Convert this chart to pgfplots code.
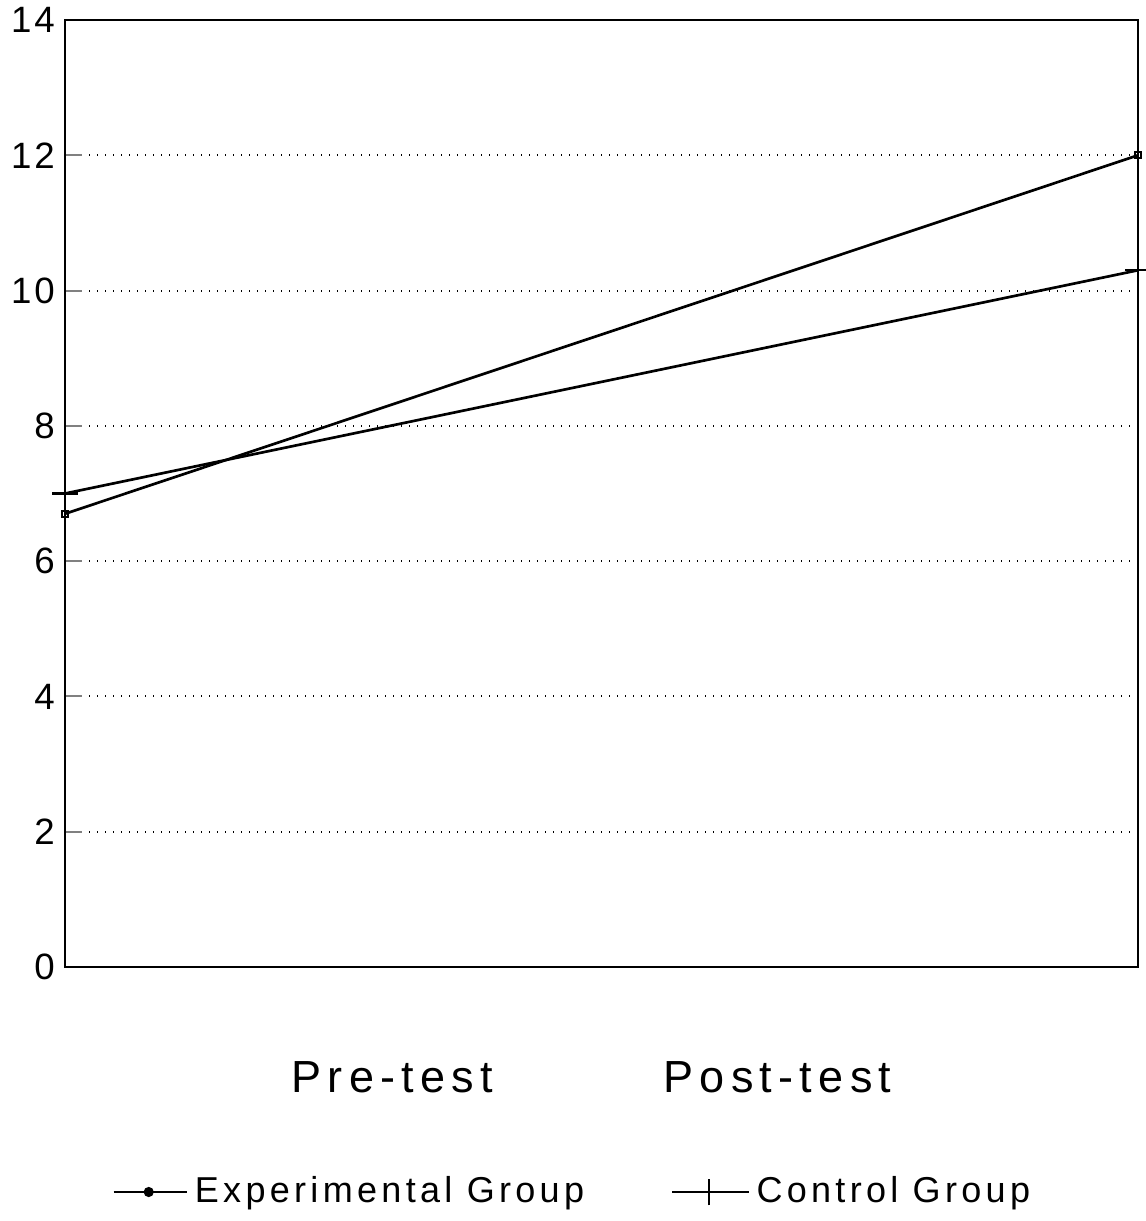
\documentclass[border=0pt]{standalone}
\usepackage{pgfplots}
\pgfplotsset{compat=1.18}
\usepackage{fontspec}
\setmainfont{Liberation Sans}
\newfontfamily\tickfont[LetterSpace=8]{Liberation Sans}
\newfontfamily\catfont[LetterSpace=14]{Liberation Sans}
\newfontfamily\legfont[LetterSpace=12]{Liberation Sans}
\begin{document}
\begin{tikzpicture}
\path[use as bounding box] (-19.5pt,-76.2pt) rectangle (324pt,290.1pt);
\begin{axis}[
  at={(0pt,0pt)}, anchor=south west,
  scale only axis, width=321.9pt, height=284.1pt,
  xmin=0, xmax=1, ymin=0, ymax=14,
  clip=false,
  axis line style={line width=0.6pt},
  ytick={0,2,4,6,8,10,12,14},
  ytick pos=left,
  yticklabel style={font=\fontsize{11}{12}\tickfont, xshift=0.5pt},
  /pgf/number format/assume math mode=true,
  ytick style={line width=0.6pt},
  tick align=inside,
  major tick length=5pt,
  ymajorgrids, grid style={dotted, line width=0.6pt, black},
  xtick={0.305,0.664},
  xticklabels={Pre-test,Post-test},
  xtick style={draw=none},
  xmajorgrids=false,
  xticklabel style={font=\fontsize{13.5}{15}\catfont, anchor=base, yshift=-37.5pt},
  legend columns=2,
  legend style={at={(0.475,0)}, anchor=center, yshift=-67.5pt, draw=none, fill=none,
    font=\fontsize{10.8}{12}\legfont,
    /tikz/every even column/.append style={column sep=24pt},
    legend cell align=left},
]
\addplot[black, line width=0.8pt, mark=square, mark size=0.9pt, mark options={line width=0.5pt},
  legend image code/.code={\draw[line width=0.7pt] (-2pt,0pt) -- (20pt,0pt); \fill (8.5pt,0pt) circle (1.1pt);}]
  coordinates {(0,6.7) (1,12.0)};
\addlegendentry{Experimental Group}
\addplot[black, line width=0.8pt, mark=-, mark size=3.8pt, mark options={line width=0.7pt},
  legend image code/.code={\draw[line width=0.7pt] (-2pt,0pt) -- (21pt,0pt); \draw[line width=0.5pt] (9pt,-4pt) -- (9pt,4pt);}]
  coordinates {(0,7.0) (1,10.3)};
\addlegendentry{Control Group}
\end{axis}
\end{tikzpicture}
\end{document}
